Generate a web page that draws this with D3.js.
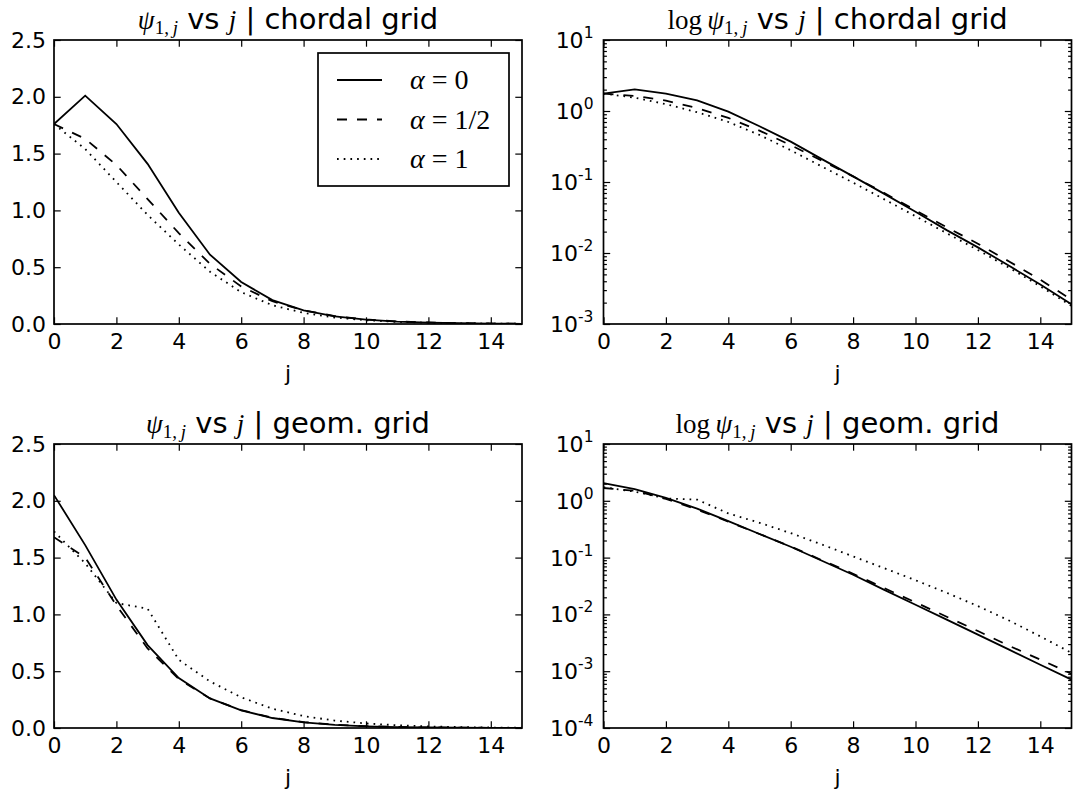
<!DOCTYPE html>
<html>
<head>
<meta charset="utf-8">
<script src="https://cdn.jsdelivr.net/npm/d3@7"></script>
<style>
  body { margin: 0; background: #fff; }
  svg { display: block; }
  .tick text { font-family: "DejaVu Sans", sans-serif; font-size: 22px; fill: #000; }
  .tick line { stroke: #000; stroke-width: 1.2; }
</style>
</head>
<body>
<svg id="chart" width="1073" height="794"></svg>
<script>
// j index (x values)
const jValues = [0, 1, 2, 3, 4, 5, 6, 7, 8, 9, 10, 11, 12, 13, 14, 15]

// chordal grid
const chordalA0 = [1.76, 2.01, 1.76, 1.41, 0.98, 0.61, 0.37, 0.21, 0.12, 0.068, 0.038, 0.021, 0.012, 0.0066, 0.0036, 0.0019]
const chordalAHalf = [1.76, 1.63, 1.40, 1.10, 0.80, 0.53, 0.33, 0.20, 0.12, 0.070, 0.040, 0.023, 0.0135, 0.0076, 0.0042, 0.0022]
const chordalA1 = [1.76, 1.54, 1.25, 0.96, 0.70, 0.46, 0.28, 0.165, 0.098, 0.057, 0.033, 0.019, 0.011, 0.0062, 0.0034, 0.0018]

// geometric grid
const geomA0 = [2.05, 1.61, 1.13, 0.73, 0.44, 0.26, 0.155, 0.088, 0.05, 0.027, 0.0148, 0.0081, 0.0044, 0.0024, 0.0013, 0.00071]
const geomAHalf = [1.68, 1.50, 1.08, 0.70, 0.43, 0.26, 0.157, 0.09, 0.052, 0.029, 0.0163, 0.0091, 0.0051, 0.0028, 0.0016, 0.00090]
const geomA1 = [1.73, 1.45, 1.10, 1.05, 0.60, 0.41, 0.27, 0.17, 0.105, 0.065, 0.040, 0.024, 0.014, 0.0078, 0.0041, 0.0021]

const xTicks = [0, 2, 4, 6, 8, 10, 12, 14]
const linTicks = [0, 0.5, 1.0, 1.5, 2.0, 2.5]
const legendLabels = ['0', '1/2', '1']

const serif = '"Liberation Serif", "DejaVu Serif", serif'
const sans = '"DejaVu Sans", sans-serif'
const styles = ['none', '10,10', '1.7,5']

const svg = d3.select('#chart')
svg.append('rect').attr('width', 1073).attr('height', 794).attr('fill', '#fff')

const W = 468, H = 284
const panels = [
  {x0: 54, y0: 40, log: false, grid: 'chordal grid', series: [chordalA0, chordalAHalf, chordalA1], legend: true},
  {x0: 603.5, y0: 40, log: true, ymin: 1e-3, grid: 'chordal grid', series: [chordalA0, chordalAHalf, chordalA1]},
  {x0: 54, y0: 444, log: false, grid: 'geom. grid', series: [geomA0, geomAHalf, geomA1]},
  {x0: 603.5, y0: 444, log: true, ymin: 1e-4, grid: 'geom. grid', series: [geomA0, geomAHalf, geomA1]}
]

function titleText(g, p) {
  const t = g.append('text')
    .attr('x', W / 2).attr('y', -11)
    .attr('text-anchor', 'middle')
    .attr('font-size', 29)
    .attr('fill', '#000')
  if (p.log) {
    t.append('tspan').attr('font-family', serif).attr('font-size', 27).text('log\u2009')
  }
  t.append('tspan').attr('font-family', serif).attr('font-size', 27).attr('font-style', 'italic').text('ψ')
  t.append('tspan').attr('font-family', serif).attr('font-size', 19).attr('dy', 5).text('1,\u2009')
  t.append('tspan').attr('font-family', serif).attr('font-style', 'italic').attr('font-size', 19).text('j')
  t.append('tspan').attr('font-family', sans).attr('dy', -5).text(' vs ')
  t.append('tspan').attr('font-family', serif).attr('font-size', 27).attr('font-style', 'italic').text('j')
  t.append('tspan').attr('font-family', sans).text(' | ' + p.grid)
}

panels.forEach((p, pi) => {
  const g = svg.append('g').attr('transform', `translate(${p.x0},${p.y0})`)
  const x = d3.scaleLinear([0, 15], [0, W])
  const y = p.log ? d3.scaleLog([p.ymin, 10], [H, 0]) : d3.scaleLinear([0, 2.5], [H, 0])

  const clipId = 'clip' + pi
  g.append('clipPath').attr('id', clipId)
    .append('rect').attr('width', W).attr('height', H)

  // lines
  const line = d3.line()
    .x((d, i) => x(jValues[i]))
    .y(d => y(d))
  p.series.forEach((s, si) => {
    g.append('path')
      .datum(s)
      .attr('clip-path', `url(#${clipId})`)
      .attr('d', line)
      .attr('fill', 'none')
      .attr('stroke', '#000')
      .attr('stroke-width', 1.8)
      .attr('stroke-dasharray', styles[si])
  })

  // x axes (ticks inward, top and bottom)
  g.append('g').attr('transform', `translate(0,${H})`)
    .call(d3.axisBottom(x).tickValues(xTicks).tickSizeInner(-6.7).tickSizeOuter(0).tickPadding(9.5).tickFormat(d3.format('d')))
    .call(a => a.select('.domain').remove())
  g.append('g')
    .call(d3.axisTop(x).tickValues(xTicks).tickSizeInner(-6.7).tickSizeOuter(0).tickFormat(''))
    .call(a => a.select('.domain').remove())

  if (!p.log) {
    g.append('g')
      .call(d3.axisLeft(y).tickValues(linTicks).tickSizeInner(-6.7).tickSizeOuter(0).tickPadding(8).tickFormat(d3.format('.1f')))
      .call(a => a.select('.domain').remove())
    g.append('g').attr('transform', `translate(${W},0)`)
      .call(d3.axisRight(y).tickValues(linTicks).tickSizeInner(-6.7).tickSizeOuter(0).tickFormat(''))
      .call(a => a.select('.domain').remove())
  } else {
    const all = y.ticks()
    const major = all.filter(v => Math.abs(Math.log10(v) - Math.round(Math.log10(v))) < 1e-9)
    const minor = all.filter(v => !major.includes(v))
    ;[[major, 6.7], [minor, 3.4]].forEach(([vals, len]) => {
      g.append('g')
        .call(d3.axisLeft(y).tickValues(vals).tickSizeInner(-len).tickSizeOuter(0).tickFormat(''))
        .call(a => a.select('.domain').remove())
      g.append('g').attr('transform', `translate(${W},0)`)
        .call(d3.axisRight(y).tickValues(vals).tickSizeInner(-len).tickSizeOuter(0).tickFormat(''))
        .call(a => a.select('.domain').remove())
    })
    const lab = g.append('g').selectAll('text')
      .data(major)
      .join('text')
        .attr('x', -10)
        .attr('y', d => y(d) + 8)
        .attr('text-anchor', 'end')
        .attr('font-family', sans)
        .attr('font-size', 22)
        .attr('fill', '#000')
    lab.append('tspan').text('10')
    lab.append('tspan').attr('font-size', 15.5).attr('dy', -10).text(d => Math.round(Math.log10(d)))
  }

  // frame
  g.append('rect').attr('width', W).attr('height', H)
    .attr('fill', 'none').attr('stroke', '#000').attr('stroke-width', 1.7)

  titleText(g, p)

  g.append('text')
    .attr('x', W / 2).attr('y', H + 57)
    .attr('text-anchor', 'middle')
    .attr('font-family', sans).attr('font-size', 22).attr('fill', '#000')
    .text('j')

  if (p.legend) {
    const lg = svg.append('g')
    lg.append('rect').attr('x', 318).attr('y', 53).attr('width', 191).attr('height', 133)
      .attr('fill', '#fff').attr('stroke', '#000').attr('stroke-width', 1.7)
    const rows = lg.selectAll('g.row')
      .data(legendLabels)
      .join('g')
        .attr('class', 'row')
        .attr('transform', (d, i) => `translate(0,${80 + i * 39.5})`)
    rows.append('line')
      .attr('x1', 337).attr('x2', 382)
      .attr('stroke', '#000').attr('stroke-width', 1.8)
      .attr('stroke-dasharray', (d, i) => styles[i])
    const tx = rows.append('text')
      .attr('x', 410).attr('y', 9)
      .attr('font-family', serif).attr('font-size', 28).attr('fill', '#000')
    tx.append('tspan').attr('font-style', 'italic').text('α')
    tx.append('tspan').text(d => ' = ' + d)
  }
})
</script>
</body>
</html>
